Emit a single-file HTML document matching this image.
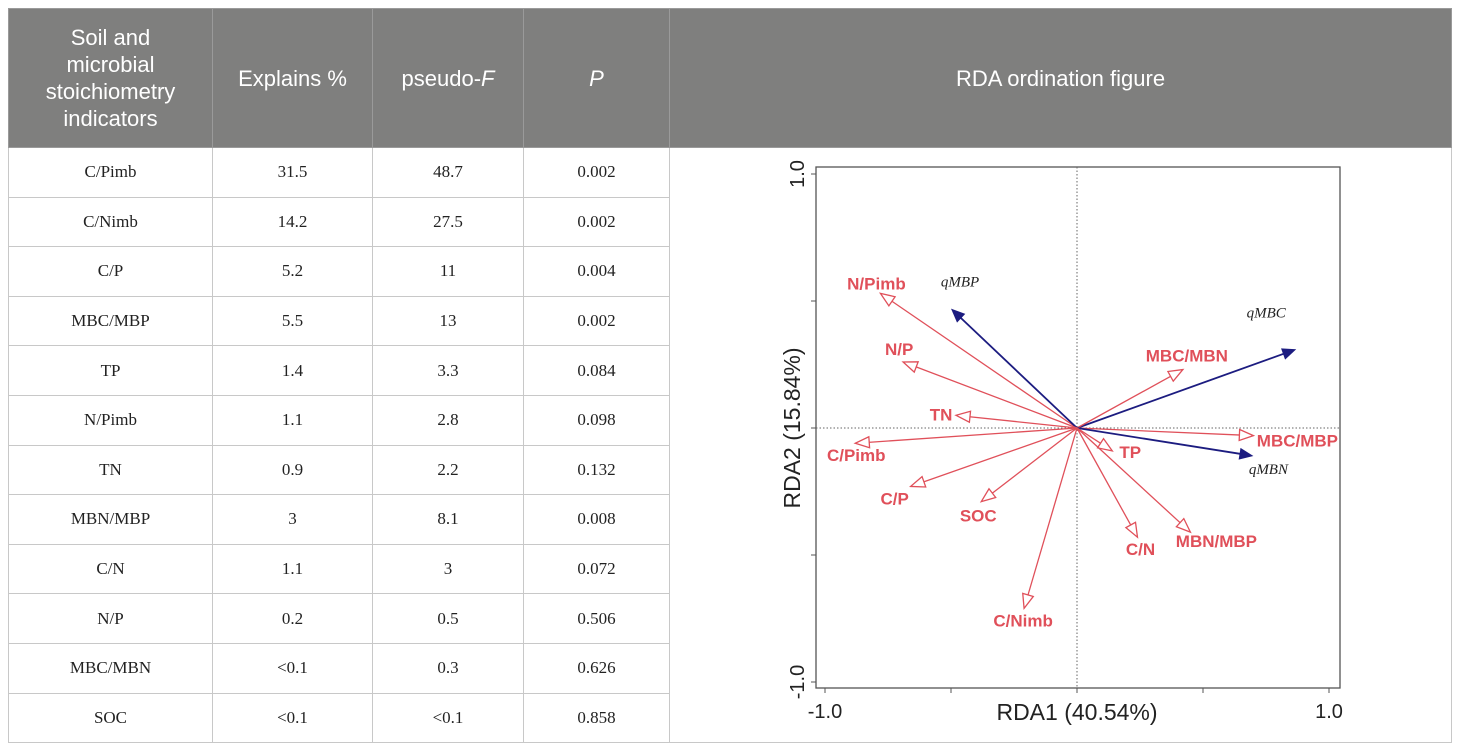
<!DOCTYPE html>
<html><head><meta charset="utf-8"><style>
body{margin:0;width:1460px;height:751px;background:#fff;overflow:hidden;position:relative;font-family:"Liberation Sans",sans-serif}
table{position:absolute;left:8px;top:8px;border-collapse:collapse;width:1444px}
th{background:#7f7f7e;color:#fff;font-weight:normal;font-size:22px;height:138px;border:1px solid #9a9a9a;line-height:27px;padding:0}
td{font-family:"Liberation Serif",serif;font-size:17px;text-align:center;height:48.6px;border:1px solid #c8c8c8;padding:0;color:#222}
td.fig{vertical-align:top}
</style></head><body>
<table>
<tr>
<th style="width:203px">Soil and<br>microbial<br>stoichiometry<br>indicators</th>
<th style="width:159px">Explains %</th>
<th style="width:150px">pseudo-<i>F</i></th>
<th style="width:145px"><i>P</i></th>
<th>RDA ordination figure</th>
</tr>
<tr><td>C/Pimb</td><td>31.5</td><td>48.7</td><td>0.002</td><td class="fig" rowspan="12"></td></tr>
<tr><td>C/Nimb</td><td>14.2</td><td>27.5</td><td>0.002</td></tr>
<tr><td>C/P</td><td>5.2</td><td>11</td><td>0.004</td></tr>
<tr><td>MBC/MBP</td><td>5.5</td><td>13</td><td>0.002</td></tr>
<tr><td>TP</td><td>1.4</td><td>3.3</td><td>0.084</td></tr>
<tr><td>N/Pimb</td><td>1.1</td><td>2.8</td><td>0.098</td></tr>
<tr><td>TN</td><td>0.9</td><td>2.2</td><td>0.132</td></tr>
<tr><td>MBN/MBP</td><td>3</td><td>8.1</td><td>0.008</td></tr>
<tr><td>C/N</td><td>1.1</td><td>3</td><td>0.072</td></tr>
<tr><td>N/P</td><td>0.2</td><td>0.5</td><td>0.506</td></tr>
<tr><td>MBC/MBN</td><td>&lt;0.1</td><td>0.3</td><td>0.626</td></tr>
<tr><td>SOC</td><td>&lt;0.1</td><td>&lt;0.1</td><td>0.858</td></tr>
</table>
<svg id="rda" width="1460" height="751" style="position:absolute;left:0;top:0" xmlns="http://www.w3.org/2000/svg"></svg>
<script>
const names=["N/Pimb","qMBP","qMBC","MBC/MBN","N/P","TN","MBC/MBP","qMBN","C/Pimb","TP","C/P","SOC","C/N","MBN/MBP","C/Nimb"];
const rda1=[-0.78,-0.50,0.87,0.42,-0.69,-0.48,0.70,0.70,-0.88,0.14,-0.66,-0.38,0.24,0.45,-0.21];
const rda2=[0.53,0.47,0.31,0.23,0.26,0.05,-0.03,-0.11,-0.06,-0.09,-0.23,-0.29,-0.43,-0.41,-0.71];
const isResponse=[false,true,true,false,false,false,false,true,false,false,false,false,false,false,false];
const ticks=[-1,-0.5,0,0.5,1];
const tickLabels=["-1.0","","","","1.0"];
// label offsets (px) from arrow tip
const lox=[-4,9,-30,4,-4,-15,44,15,1,18,-16,-3,3,26,-1];
const loy=[-10,-28,-38,-14,-13,-1,5,12,12,1,12,14,12,9,12];
const svg=document.getElementById('rda');const NS="http://www.w3.org/2000/svg";
const L=816,T=167,R=1340,B=688;
const X=v=>1077+v*252, Y=v=>428-v*254;
function mk(t,a,p){const e=document.createElementNS(NS,t);for(const k in a)e.setAttribute(k,a[k]);(p||svg).appendChild(e);return e;}
let e;
e=mk('rect',{x:L,y:T,width:R-L,height:B-T,fill:'none',stroke:'#555','stroke-width':1.3});


e=mk('line',{x1:X(0),y1:T,x2:X(0),y2:B,stroke:'#666','stroke-dasharray':'1.5,2','stroke-width':1});


e=mk('line',{x1:L,y1:Y(0),x2:R,y2:Y(0),stroke:'#666','stroke-dasharray':'1.5,2','stroke-width':1});


ticks.forEach((t,i)=>{
 e=mk('line',{x1:X(t),y1:B,x2:X(t),y2:B+5,stroke:'#555'});
 
 
 e=mk('line',{x1:L,y1:Y(t),x2:L-5,y2:Y(t),stroke:'#555'});
 
 
 if(tickLabels[i]){
  e=mk('text',{x:X(t),y:B+30,'text-anchor':'middle','font-size':20,fill:'#222','font-family':'Liberation Sans'});e.textContent=tickLabels[i];
  
  
  e=mk('text',{x:0,y:0,'text-anchor':'middle','font-size':20,fill:'#222','font-family':'Liberation Sans',transform:`translate(${L-12},${Y(t)}) rotate(-90)`});e.textContent=tickLabels[i];
  
  
 }
});
e=mk('text',{x:X(0),y:B+32,'text-anchor':'middle','font-size':23,fill:'#222','font-family':'Liberation Sans'});e.textContent="RDA1 (40.54%)";


e=mk('text',{x:0,y:0,'text-anchor':'middle','font-size':23,fill:'#222','font-family':'Liberation Sans',transform:`translate(800,${Y(0)}) rotate(-90)`});e.textContent="RDA2 (15.84%)";


names.forEach((n,i)=>{
 const x2=X(rda1[i]),y2=Y(rda2[i]),x1=X(0),y1=Y(0);
 const col=isResponse[i]?'#1c1c80':'#e0505a';
 const ang=Math.atan2(y2-y1,x2-x1),len=Math.hypot(x2-x1,y2-y1);
 const g=mk('g',{transform:`translate(${x1},${y1}) rotate(${ang*180/Math.PI})`});
 
 
 mk('line',{x1:0,y1:0,x2:len-(isResponse[i]?8:4),y2:0,stroke:col,'stroke-width':isResponse[i]?1.8:1.3},g);
 if(isResponse[i])mk('polygon',{points:`${len},0 ${len-14},-6 ${len-14},6`,fill:col},g);
 else mk('polygon',{points:`${len},0 ${len-14},-5.5 ${len-14},5.5`,fill:'#fff',stroke:col,'stroke-width':1.3},g);
 const t=mk('text',{x:x2+lox[i],y:y2+loy[i]+6,'text-anchor':'middle','font-size':isResponse[i]?15:17,'font-weight':isResponse[i]?'normal':'bold','font-style':isResponse[i]?'italic':'normal',fill:isResponse[i]?'#222':'#e0505a','font-family':isResponse[i]?'Liberation Serif':'Liberation Sans'});
 t.textContent=n;
 
 
});
</script>
</body></html>
